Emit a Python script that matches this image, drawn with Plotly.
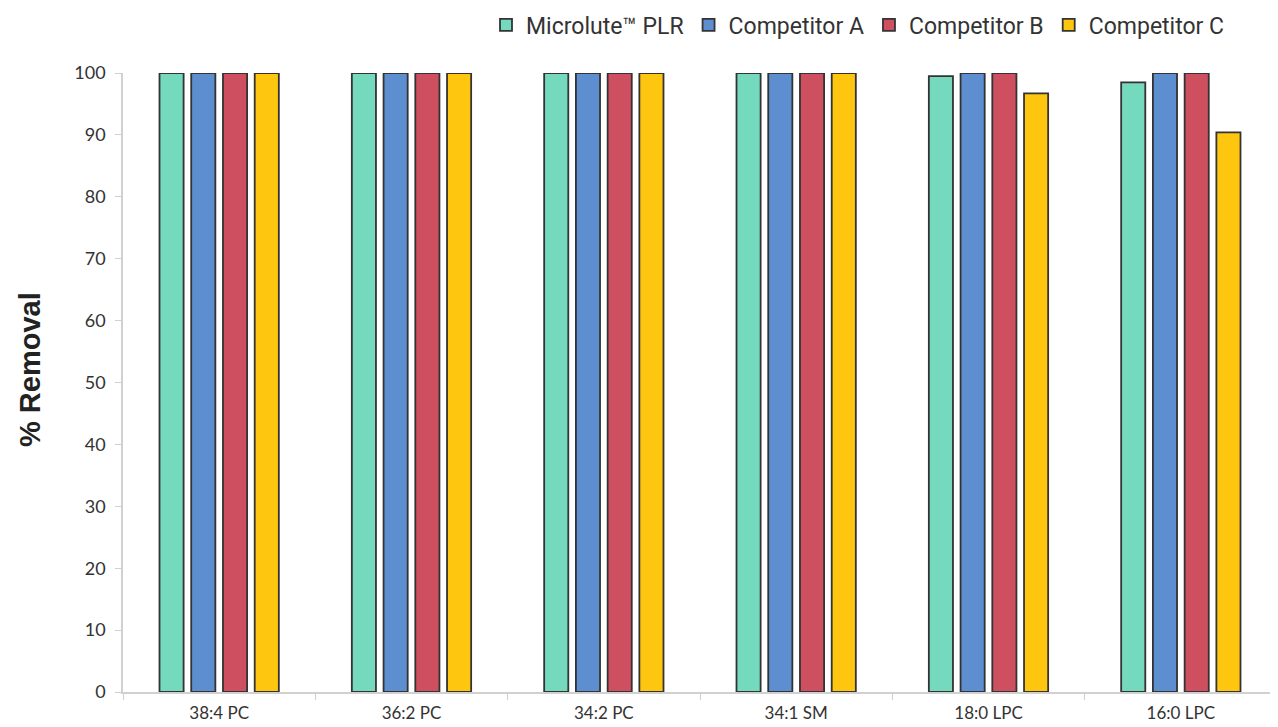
import plotly.graph_objects as go

categories = ["38:4 PC", "36:2 PC", "34:2 PC", "34:1 SM", "18:0 LPC", "16:0 LPC"]
series_names = ["Microlute™ PLR", "Competitor A", "Competitor B", "Competitor C"]
microlute = [100, 100, 100, 100, 99.5, 98.5]
comp_a = [100, 100, 100, 100, 100, 100]
comp_b = [100, 100, 100, 100, 100, 100]
comp_c = [100, 100, 100, 100, 96.7, 90.4]
y_ticks = list(range(0, 101, 10))

colors = ["#75D9BD", "#5D8ED0", "#CE5060", "#FFC60F"]
values = [microlute, comp_a, comp_b, comp_c]

fig = go.Figure()
for name, vals, col in zip(series_names, values, colors):
    fig.add_trace(go.Bar(
        x=categories, y=vals, name=name,
        marker=dict(color=col, line=dict(color="#333333", width=1.8)),
    ))

W, H = 1270, 719
L, R, T, B = 115, 1, 65, 35
fig.update_layout(
    width=W, height=H,
    paper_bgcolor="white", plot_bgcolor="white",
    margin=dict(l=L, r=R, t=T, b=B, autoexpand=False),
    barmode="group", bargap=0.34, bargroupgap=0.24,
    font=dict(family="Lato", color="#333333"),
    legend=dict(
        orientation="h", x=(1230 - 8) / W, xanchor="right", xref="container",
        y=1 - (25 - 8) / H, yanchor="middle", yref="container",
        font=dict(family="Roboto", size=23, color="#333333"),
        traceorder="normal", itemwidth=30,
    ),
    showlegend=True,
    annotations=[dict(
        text="<b>% Removal</b>", textangle=-90, showarrow=False,
        xref="paper", yref="paper",
        x=(30 - 8 - L) / (W - L - R), y=1 - (370 - 8 - T) / (H - T - B),
        xanchor="center", yanchor="middle",
        font=dict(size=29, color="#222222", family="Liberation Sans, Arial"),
    )],
)
fig.update_yaxes(
    range=[0, 100], tickvals=y_ticks, showgrid=False,
    showline=True, linecolor="#d0d0d0", linewidth=1.5,
    ticks="outside", tickcolor="#d0d0d0", ticklen=6,
    ticklabelstandoff=6,
    tickfont=dict(size=18, color="#333333"),
    zeroline=False, automargin=False,
)
fig.update_xaxes(
    showline=True, linecolor="#d0d0d0", linewidth=1.5,
    ticks="outside", tickson="boundaries", tickcolor="#d0d0d0", ticklen=6,
    ticklabelstandoff=5,
    tickfont=dict(size=17, color="#333333"),
    showgrid=False, automargin=False,
)
fig.write_html("out.html")
